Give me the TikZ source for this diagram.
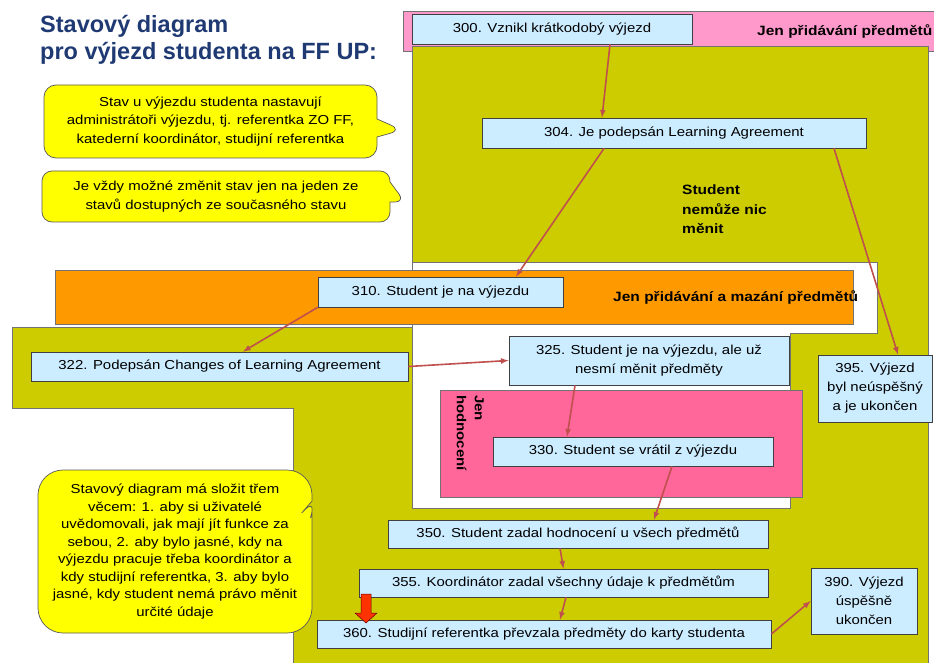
\documentclass[tikz,border=0pt]{standalone}
\usepackage{fontspec}
\setmainfont{Liberation Sans}
\newfontfamily\slidefont[FakeStretch=1.15]{Liberation Sans}
\usetikzlibrary{arrows,shapes.callouts}

\definecolor{oliveFill}{HTML}{CCCC00}
\definecolor{stripPink}{HTML}{FF99CC}
\definecolor{stripOrange}{HTML}{FF9900}
\definecolor{gradePink}{HTML}{FF6699}
\definecolor{stateBlue}{HTML}{CCECFF}
\definecolor{noteYellow}{HTML}{FFFF00}
\definecolor{arrowRed}{HTML}{C0504D}
\definecolor{titleBlue}{HTML}{1F3A73}
\definecolor{blockRed}{HTML}{FF3300}

\tikzset{
  state/.style={draw=black!75, line width=0.8pt, fill=stateBlue, inner sep=1pt, align=center,
    font=\slidefont\fontsize{13}{19}\selectfont},
  note/.style={rectangle callout, draw=black!65, line width=0.7pt, fill=noteYellow, align=center,
    inner sep=2pt, font=\slidefont\fontsize{13}{18.5}\selectfont},
  zone/.style={draw=black!55, line width=0.7pt},
  zonelabel/.style={inner sep=0pt, font=\slidefont\fontsize{13.5}{19.5}\selectfont\bfseries},
  arr/.style={->, >=latex, every edge/.style={draw=arrowRed, line width=1.6pt}}
}

\begin{document}
\begin{tikzpicture}[x=1pt, y=-1pt]
  \useasboundingbox (0,0) rectangle (934,663);
  \clip (0,0) rectangle (934,663);
  % zones
  \draw[zone, fill=stripPink] (403,11) rectangle (945,51);
  \fill[oliveFill] (412,46) rectangle (928,670);
  \draw[zone] (412,262) -- (412,46) -- (928,46) -- (928,670);
  \draw[zone, fill=white] (412,262) -- (877,262) -- (877,333) -- (790,333)
    -- (790,508) -- (412,508) -- cycle;
  \draw[zone, fill=stripOrange] (55,270) rectangle (853,324);
  \fill[oliveFill] (12,327) -- (412,327) -- (412,670) -- (293,670) -- (293,408) -- (12,408) -- cycle;
  \draw[zone] (293,670) -- (293,408) -- (12,408) -- (12,327) -- (412,327) -- (412,508);
  \draw[zone, fill=gradePink] (440,390) rectangle (802,497);

  % title and notes
  \node[anchor=north west, inner sep=0pt, align=left, text=titleBlue,
    font=\fontsize{23.5}{27}\selectfont\bfseries] (title) at (40,15)
    {Stavový diagram\\pro výjezd studenta na FF UP:};

  \coordinate (tip1) at (402,130);
  \coordinate (tip2) at (405,202);
  \coordinate (tip3) at (318,494);
  \node[note, rounded corners=12pt, minimum width=333pt, minimum height=73pt,
    callout absolute pointer={(tip1)}, callout pointer width=18pt] (note1) at (210.5,121.5)
    {Stav u výjezdu studenta nastavují\\administrátoři výjezdu, tj. referentka ZO FF,\\katederní koordinátor, studijní referentka};
  \node[note, rounded corners=10pt, minimum width=348pt, minimum height=51pt,
    callout absolute pointer={(tip2)}, callout pointer width=20pt] (note2) at (216,196.5)
    {Je vždy možné změnit stav jen na jeden ze\\stavů dostupných ze současného stavu};
  \node[note, rounded corners=25pt, minimum width=274pt, minimum height=163pt,
    callout absolute pointer={(tip3)}, callout pointer width=12pt,
    font=\slidefont\fontsize{13}{17.5}\selectfont] (note3) at (175,551.5)
    {Stavový diagram má složit třem\\věcem: 1. aby si uživatelé\\uvědomovali, jak mají jít funkce za\\sebou, 2. aby bylo jasné, kdy na\\výjezdu pracuje třeba koordinátor a\\kdy studijní referentka, 3. aby bylo\\jasné, kdy student nemá právo měnit\\určité údaje};

  % zone labels
  \node[zonelabel, anchor=west] (addonly) at (757,31) {Jen přidávání předmětů};
  \node[zonelabel, anchor=west] (addremove) at (613,297) {Jen přidávání a mazání předmětů};
  \node[zonelabel, anchor=north west, align=left] (nochange) at (682,185) {Student\\nemůže nic\\měnit};
  \node[zonelabel, rotate=-90, anchor=north west, align=left,
    font=\slidefont\fontsize{13}{18}\selectfont\bfseries] (gradeonly) at (484,395) {Jen\\hodnocení};

  % states
  \node[state, minimum width=280pt, minimum height=30pt] (s300) at (552,29) {300. Vznikl krátkodobý výjezd};
  \node[state, minimum width=384pt, minimum height=30pt] (s304) at (674,133) {304. Je podepsán Learning Agreement};
  \node[state, minimum width=245pt, minimum height=30pt] (s310) at (440.5,292) {310. Student je na výjezdu};
  \node[state, minimum width=377pt, minimum height=29pt] (s322) at (219.5,366.5) {322. Podepsán Changes of Learning Agreement};
  \node[state, minimum width=280pt, minimum height=49pt] (s325) at (649,360.5) {325. Student je na výjezdu, ale už\\nesmí měnit předměty};
  \node[state, minimum width=280pt, minimum height=29pt] (s330) at (633,451.5) {330. Student se vrátil z výjezdu};
  \node[state, minimum width=380pt, minimum height=28pt] (s350) at (578,534) {350. Student zadal hodnocení u všech předmětů};
  \node[state, minimum width=409pt, minimum height=28pt] (s355) at (563.5,583) {355. Koordinátor zadal všechny údaje k předmětům};
  \node[state, minimum width=454pt, minimum height=28pt] (s360) at (544,634) {360. Studijní referentka převzala předměty do karty studenta};
  \node[state, minimum width=106pt, minimum height=66pt] (s390) at (864,601) {390. Výjezd\\úspěšně\\ukončen};
  \node[state, minimum width=114pt, minimum height=67pt] (s395) at (875,388.5) {395. Výjezd\\byl neúspěšný\\a je ukončen};

  % transitions
  \path[arr]
  ([xshift=58pt]s300.south) edge ([xshift=-72pt]s304.north)
  ([xshift=-70pt]s304.south) edge ([xshift=75.5pt]s310.north)
  ([xshift=160pt]s304.south) edge ([xshift=23pt]s395.north)
  (s310.south west) edge ([xshift=23.5pt]s322.north)
  (s322.east) edge (s325.west)
  ([xshift=-74pt]s325.south) edge ([xshift=-66pt]s330.north)
  ([xshift=39pt]s330.south) edge ([xshift=76pt]s350.north)
  ([xshift=-18pt]s350.south) edge (s355.north)
  ([xshift=2.5pt]s355.south) edge ([xshift=16pt]s360.north)
  (s360.east) edge (s390.west)
  ;
  \filldraw[fill=blockRed, draw=red!40!black, line width=0.5pt]
    (361,594) -- (371,594) -- (371,613) -- (377,613) -- (366,623) -- (355,613) -- (361,613) -- cycle;
\end{tikzpicture}
\end{document}
